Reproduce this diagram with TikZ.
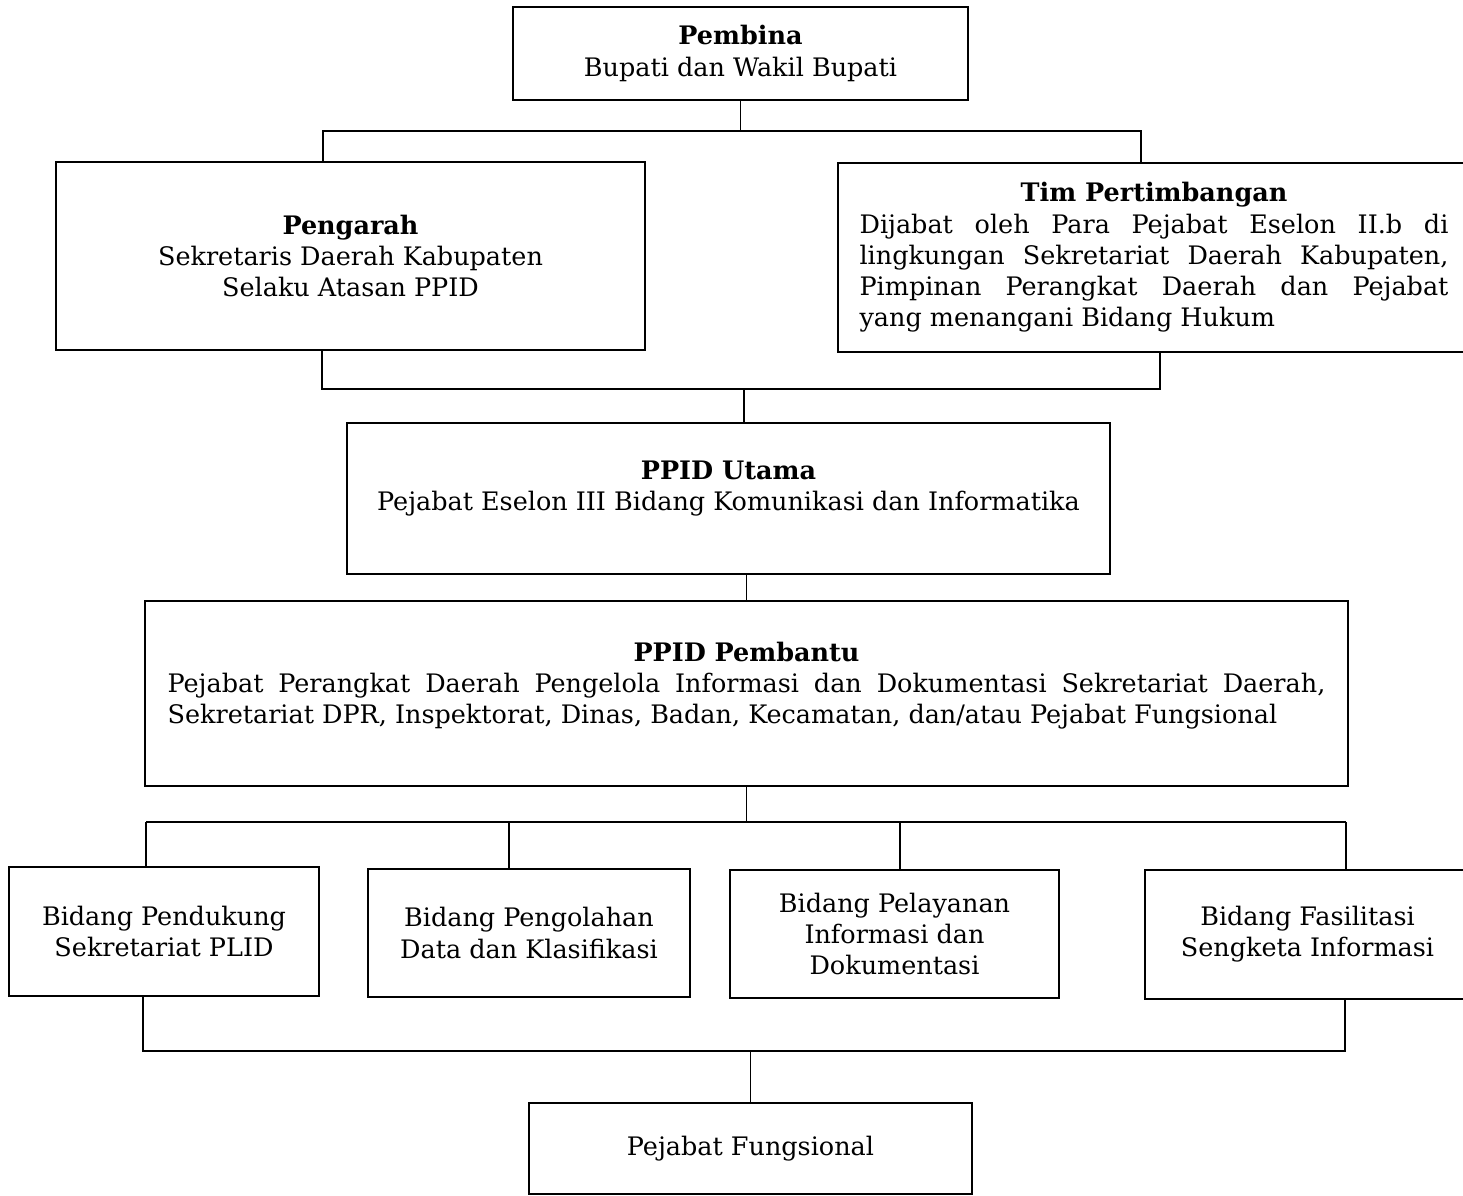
\documentclass[tikz,border=0pt]{standalone}
\usepackage{fontspec}
\setmainfont{DejaVu Serif}

\begin{document}
\begin{tikzpicture}[x=0.02cm, y=-0.02cm,
    box/.style={draw, line width=0.9pt, align=center, inner sep=0pt,
                font=\fontsize{14.5}{17.8}\selectfont},
    link/.style={line width=0.7pt}]
  \useasboundingbox (0,0) rectangle (1463,1196);

  % boxes
  \node[box, minimum width=9.1cm, minimum height=1.86cm] (pembina) at (740.5,53.5)
       {\textbf{Pembina}\\Bupati dan Wakil Bupati};
  \node[box, minimum width=11.78cm, minimum height=3.76cm] (pengarah) at (350.5,256)
       {\textbf{Pengarah}\\Sekretaris Daerah Kabupaten\\Selaku Atasan PPID};
  \node[box, minimum width=12.64cm, minimum height=3.78cm] (tim) at (1154,257.5)
       {\textbf{Tim Pertimbangan}\\
        \makebox[11.78cm][s]{Dijabat oleh Para Pejabat Eselon II.b di}\\
        \makebox[11.78cm][s]{lingkungan Sekretariat Daerah Kabupaten,}\\
        \makebox[11.78cm][s]{Pimpinan Perangkat Daerah dan Pejabat}\\
        \makebox[11.78cm][l]{yang menangani Bidang Hukum}};
  \node[box, minimum width=15.26cm, minimum height=3.02cm, text depth=0.5cm] (utama) at (728.5,498.5)
       {\textbf{PPID Utama}\\Pejabat Eselon III Bidang Komunikasi dan Informatika};
  \node[box, minimum width=24.06cm, minimum height=3.7cm, text depth=0.42cm] (pembantu) at (746.5,693.5)
       {\textbf{PPID Pembantu}\\
        \makebox[23.16cm][s]{Pejabat Perangkat Daerah Pengelola Informasi dan Dokumentasi Sekretariat Daerah,}\\
        \makebox[23.16cm][l]{Sekretariat DPR, Inspektorat, Dinas, Badan, Kecamatan, dan/atau Pejabat Fungsional}};
  \node[box, minimum width=6.2cm, minimum height=2.58cm] (bid1) at (164,931.5)
       {Bidang Pendukung\\Sekretariat PLID};
  \node[box, minimum width=6.44cm, minimum height=2.56cm] (bid2) at (529,933)
       {Bidang Pengolahan\\Data dan Klasifikasi};
  \node[box, minimum width=6.58cm, minimum height=2.56cm] (bid3) at (894.5,934)
       {Bidang Pelayanan\\Informasi dan\\Dokumentasi};
  \node[box, minimum width=6.5cm, minimum height=2.58cm] (bid4) at (1307.5,934.5)
       {Bidang Fasilitasi\\Sengketa Informasi};
  \node[box, minimum width=8.86cm, minimum height=1.82cm] (fungsi) at (750.5,1148.5)
       {Pejabat Fungsional};

  % connectors
  \coordinate (p1) at (323,131);
  \coordinate (p2) at (1141,131);
  \draw[link] (pembina.south) -- (pembina.south |- p1);
  \draw[link] (pengarah.north -| p1) |- (p2) -- (tim.north -| p2);

  \coordinate (q0) at (744,389);
  \coordinate (q1) at (322,389);
  \coordinate (q2) at (1160,389);
  \draw[link] (pengarah.south -| q1) |- (q2) -- (tim.south -| q2);
  \draw[link] (q0) -- (utama.north -| q0);

  \draw[link] (utama.south -| pembantu) -- (pembantu.north);

  \coordinate (r1) at (146,822);
  \coordinate (r2) at (509,822);
  \coordinate (r3) at (900,822);
  \coordinate (r4) at (1346,822);
  \draw[link] (pembantu.south) -- (pembantu.south |- r1);
  \draw[link] (r1) -- (r4);
  \foreach \n in {1,...,4}
    \draw[link] (r\n) -- (bid\n.north -| r\n);

  \coordinate (s1) at (143,1051);
  \coordinate (s2) at (1345,1051);
  \draw[link] (bid1.south -| s1) |- (s2) -- (bid4.south -| s2);
  \draw[link] (fungsi.north) -- (fungsi.north |- s1);
\end{tikzpicture}
\end{document}
